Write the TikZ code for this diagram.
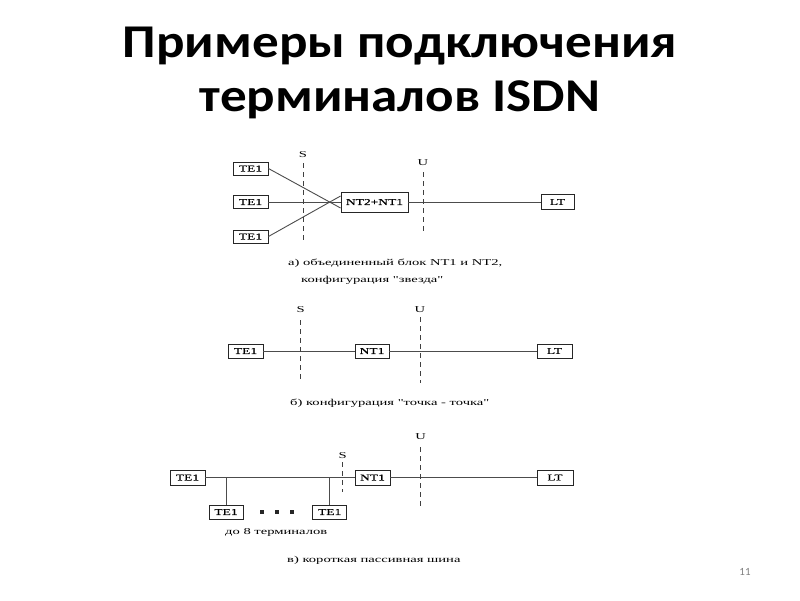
\documentclass[tikz,border=0pt]{standalone}
\usepackage{fontspec}
\setmainfont{Liberation Serif}
\newfontfamily\titlefont[FakeStretch=1.13]{Carlito}
\newfontfamily\diag[FakeStretch=1.62]{Liberation Serif}
\newfontfamily\boxfont[FakeStretch=1.5,FakeBold=0.8]{Liberation Serif}
\newfontfamily\pagefont{Carlito}
\begin{document}
\begin{tikzpicture}[x=1pt,y=-1pt,
  box/.style={draw=black!85, line width=0.9pt, inner sep=0pt, minimum width=35pt, minimum height=14pt, font=\boxfont\fontsize{9}{9}\selectfont},
  wire/.style={draw=black!70, line width=0.9pt},
  sep/.style={draw=black!75, line width=0.9pt, dash pattern=on 5pt off 4pt},
  lbl/.style={font=\diag\fontsize{9}{9}\selectfont, inner sep=0pt},
  capt/.style={font=\diag\fontsize{9}{11}\selectfont, inner sep=0pt, anchor=west},
  ttl/.style={font=\titlefont\bfseries\fontsize{47}{47}\selectfont, inner sep=0pt, anchor=base}]
\useasboundingbox (0,0) rectangle (800,600);
% title
\node[ttl] (t1) at (400,57.7) {Примеры подключения};
\node[ttl] (t2) at (400,111.7) {терминалов ISDN};
% a) star
\node[box, minimum height=13pt] (ta1) at (250.5,168.5) {TE1};
\node[box, minimum height=13pt] (ta2) at (250.5,202) {TE1};
\node[box, minimum height=13pt] (ta3) at (250.5,236.5) {TE1};
\node[box, minimum width=67pt, minimum height=20pt] (nta) at (374.5,202) {NT2+NT1};
\node[box, minimum width=33pt, minimum height=15pt] (lta) at (557.5,202) {LT};
\draw[wire] (ta1.east) -- ([yshift=-6pt]nta.west);
\draw[wire] (ta2.east) -- (nta.west);
\draw[wire] (ta3.east) -- ([yshift=6pt]nta.west);
\draw[wire] (nta.east) -- (lta.west);
\node[lbl] (sa) at (303,155) {S};
\coordinate (sa1) at (303,163);
\coordinate (sa2) at (303,242);
\draw[sep] (sa1) -- (sa2);
\node[lbl] (ua) at (423,163) {U};
\coordinate (ua1) at (423,172);
\coordinate (ua2) at (423,233);
\draw[sep] (ua1) -- (ua2);
\node[capt] (ca1) at (288,263) {а) объединенный блок NT1 и NT2,};
\node[capt] (ca2) at (301,280) {конфигурация "звезда"};
% b) point-to-point
\node[box] (tb) at (245.5,351) {TE1};
\node[box, minimum width=34pt] (ntb) at (372,351) {NT1};
\node[box] (ltb) at (554.5,351) {LT};
\draw[wire] (tb.east) -- (ntb.west);
\draw[wire] (ntb.east) -- (ltb.west);
\node[lbl] (sb) at (300.7,310) {S};
\coordinate (sb1) at (300.7,320);
\coordinate (sb2) at (300.7,382);
\draw[sep] (sb1) -- (sb2);
\node[lbl] (ub) at (420,310) {U};
\coordinate (ub1) at (420,317);
\coordinate (ub2) at (420,383);
\draw[sep] (ub1) -- (ub2);
\node[capt] (cb) at (290,403) {б) конфигурация "точка - точка"};
% c) passive bus
\node[box, minimum height=15pt] (tc1) at (187.5,477.5) {TE1};
\node[box, minimum width=34pt] (tc2) at (226,512) {TE1};
\node[box, minimum width=34pt] (tc3) at (329.7,512) {TE1};
\node[box, minimum height=15pt] (ntc) at (372.5,477.5) {NT1};
\node[box, minimum width=36pt, minimum height=15pt] (ltc) at (555,477.5) {LT};
\draw[wire] (tc1.east) -- (ntc.west);
\draw[wire] (ntc.east) -- (ltc.west);
\coordinate (bj1) at (tc2.north |- tc1.east);
\coordinate (bj2) at (tc3.north |- tc1.east);
\draw[wire] (bj1) -- (tc2.north);
\draw[wire] (bj2) -- (tc3.north);
\foreach \dx in {261.7,276.7,291.7}
  \fill[black!85] (\dx-2,510) rectangle (\dx+2,514);
\node[lbl] (sc) at (342.7,455.7) {S};
\coordinate (sc1) at (342.7,462);
\coordinate (sc2) at (342.7,492);
\draw[sep] (sc1) -- (sc2);
\node[lbl] (uc) at (420.7,437) {U};
\coordinate (uc1) at (420.7,447);
\coordinate (uc2) at (420.7,507);
\draw[sep] (uc1) -- (uc2);
\node[capt] (cc1) at (225,532) {до 8 терминалов};
\node[capt] (cc2) at (287,560) {в) короткая пассивная шина};
% page number
\node[font=\pagefont\fontsize{11}{11}\selectfont, text=black!50, inner sep=0pt] (pg) at (745,572) {11};
\end{tikzpicture}
\end{document}
